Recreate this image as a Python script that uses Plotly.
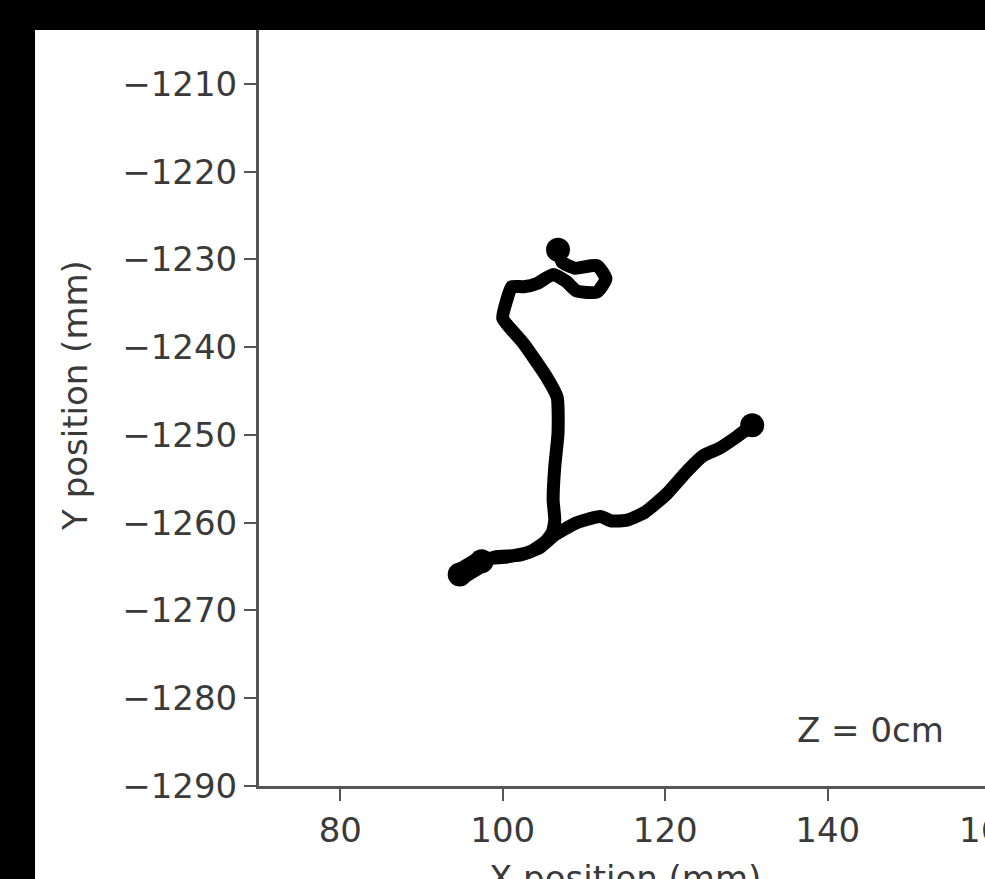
import plotly.graph_objects as go

# Trajectory (mm), in drawing order
x_mm = [106.8, 107.3, 108.9, 111.6, 112.7, 111.6, 109.1, 107.8, 106.2, 104.3,
        102.6, 101.1, 100.5, 100.0, 102.5, 105.4, 106.7, 106.8, 106.4, 106.2,
        106.4, 106.1, 105.3, 103.4, 100.5, 98.1, 96.0, 94.5,
        97.0, 99.0, 102.1, 104.6, 106.4, 109.1, 112.0, 113.4, 115.3, 117.5,
        120.2, 122.7, 124.6, 126.7, 128.8, 130.7]
y_mm = [-1228.9, -1230.3, -1231.0, -1230.7, -1232.2, -1233.7, -1233.6, -1232.5, -1231.7, -1232.7,
        -1233.1, -1233.1, -1234.6, -1236.7, -1239.5, -1243.4, -1245.7, -1249.8, -1253.6, -1257.4,
        -1259.7, -1261.1, -1262.1, -1263.3, -1263.9, -1264.1, -1264.8, -1266.1,
        -1264.7, -1263.9, -1263.7, -1262.8, -1261.4, -1260.0, -1259.3, -1259.8, -1259.7, -1258.8,
        -1256.7, -1254.1, -1252.4, -1251.5, -1250.2, -1248.9]

# Dwell spots (blobs) on the trajectory
blob_x = [106.8, 130.7, 94.7, 97.4]
blob_y = [-1228.9, -1248.9, -1265.9, -1264.4]
# Elongated dwell smear at the lower-left end
smear_x = [94.7, 96.0, 97.4]
smear_y = [-1265.9, -1265.1, -1264.4]

x_ticks = [80, 100, 120, 140]
y_ticks = [-1290, -1280, -1270, -1260, -1250, -1240, -1230, -1220, -1210]
x_range = [70, 159.35]
y_range = [-1290, -1203.85]
z_label = "Z = 0cm"

FONT = "DejaVu Sans"
TXT = "#3a3a3a"
AX = "#555555"

fig = go.Figure()
fig.add_trace(go.Scatter(x=x_mm, y=y_mm, mode="lines",
                         line=dict(color="black", width=13, shape="spline", smoothing=0.5),
                         hoverinfo="skip", showlegend=False))
fig.add_trace(go.Scatter(x=smear_x, y=smear_y, mode="lines",
                         line=dict(color="black", width=22),
                         hoverinfo="skip", showlegend=False))
fig.add_trace(go.Scatter(x=blob_x, y=blob_y, mode="markers",
                         marker=dict(color="black", size=24, line=dict(width=0)),
                         hoverinfo="skip", showlegend=False))

fig.update_layout(
    width=985, height=879,
    margin=dict(l=259, r=0, t=30, b=93, pad=0),
    paper_bgcolor="black", plot_bgcolor="white",
    font=dict(family=FONT, size=34, color=TXT),
    xaxis=dict(range=x_range, tickvals=x_ticks, ticks="outside", ticklen=12, tickwidth=2,
               tickcolor=AX, showline=True, linecolor=AX, linewidth=3, showgrid=False,
               zeroline=False, tickfont=dict(family=FONT, size=34, color=TXT)),
    yaxis=dict(range=y_range, tickvals=y_ticks, ticks="outside", ticklen=12, tickwidth=2,
               tickcolor=AX, showline=True, linecolor=AX, linewidth=3, showgrid=False,
               zeroline=False, tickfont=dict(family=FONT, size=34, color=TXT)),
    shapes=[dict(type="rect", xref="paper", yref="paper", x0=-0.3085, x1=1.2,
                 y0=-0.3, y1=1.0, fillcolor="white", line=dict(width=0), layer="below")],
    annotations=[
        dict(text="Y position (mm)", xref="paper", yref="paper", x=-0.2534, y=0.516,
             textangle=-90, showarrow=False, xanchor="center", yanchor="middle",
             font=dict(family=FONT, size=34, color=TXT)),
        dict(text="X position (mm)", xref="paper", yref="paper", x=0.504, y=-0.093,
             showarrow=False, xanchor="center", yanchor="top",
             font=dict(family=FONT, size=34, color=TXT)),
        dict(text="160", xref="paper", yref="paper", x=1.0083, y=-0.029,
             showarrow=False, xanchor="center", yanchor="top",
             font=dict(family=FONT, size=34, color=TXT)),
        dict(text=z_label, xref="paper", yref="paper", x=0.8416, y=0.0741,
             showarrow=False, xanchor="center", yanchor="middle",
             font=dict(family=FONT, size=34, color=TXT)),
    ],
)

fig.write_html("out.html", config={"displayModeBar": False},
               post_script="document.body.style.margin='0';document.body.style.overflow='hidden';")
